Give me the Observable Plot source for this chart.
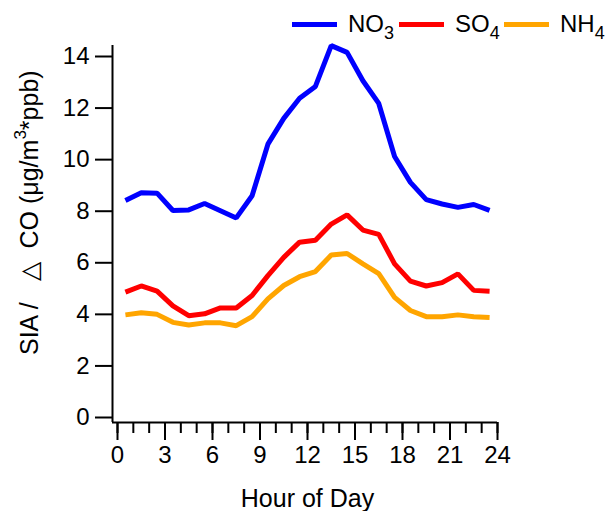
<!DOCTYPE html>
<html><head><meta charset="utf-8">
<script src="https://cdn.jsdelivr.net/npm/d3@7"></script>
<script src="https://cdn.jsdelivr.net/npm/@observablehq/plot@0.6"></script>
<style>
body{margin:0;background:#fff;font-family:"Liberation Sans",Arial,sans-serif;}
#legend{height:40px;position:relative;font-size:24px;color:#000;width:607px;}
.item{position:absolute;top:6px;height:36px;display:flex;align-items:center;white-space:nowrap;}
.sw{width:45px;height:5px;margin-right:11px;}
.item sub{font-size:18px;vertical-align:-7px;line-height:0;}
</style></head>
<body>
<div id="legend"></div>
<div id="chart"></div>
<script>
const hours = [0.5,1.5,2.5,3.5,4.5,5.5,6.5,7.5,8.5,9.5,10.5,11.5,12.5,13.5,14.5,15.5,16.5,17.5,18.5,19.5,20.5,21.5,22.5,23.5];
const no3 = [8.42,8.72,8.70,8.03,8.05,8.30,8.02,7.74,8.60,10.6,11.6,12.38,12.84,14.42,14.16,13.06,12.18,10.12,9.12,8.45,8.28,8.15,8.26,8.03];
const so4 = [4.86,5.10,4.90,4.33,3.95,4.02,4.25,4.25,4.73,5.50,6.21,6.80,6.87,7.50,7.86,7.27,7.10,5.96,5.29,5.10,5.23,5.57,4.93,4.90];
const nh4 = [3.98,4.06,4.00,3.69,3.59,3.67,3.67,3.56,3.91,4.60,5.12,5.46,5.66,6.30,6.36,5.96,5.58,4.66,4.15,3.91,3.91,3.98,3.91,3.88];
const seriesNames = ["NO3","SO4","NH4"];
const seriesLabels = [["NO","3"],["SO","4"],["NH","4"]];
const seriesColors = ["#0000ff","#ff0000","#ffa500"];
const yTicks = [0,2,4,6,8,10,12,14];
const xTicks = [0,3,6,9,12,15,18,21,24];
const xMinor = d3.range(0,25,1);
const xLabel = "Hour of Day";

const data = hours.flatMap((h,i)=>[
  {hour:h, v:no3[i], s:"NO3"},
  {hour:h, v:so4[i], s:"SO4"},
  {hour:h, v:nh4[i], s:"NH4"}
]);

// legend
const legend = document.getElementById("legend");
const lefts = [292,399,504];
seriesNames.forEach((n,i)=>{
  const it = document.createElement("div");
  it.className="item"; it.style.left = lefts[i]+"px";
  it.innerHTML = `<div class="sw" style="background:${seriesColors[i]}"></div><span>${seriesLabels[i][0]}<sub>${seriesLabels[i][1]}</sub></span>`;
  legend.appendChild(it);
});

const plot = Plot.plot({
  width:607, height:471,
  marginLeft:117, marginRight:110, marginTop:16, marginBottom:94,
  x:{domain:[0,24]},
  y:{domain:[0,14]},
  color:{domain:seriesNames, range:seriesColors},
  style:{fontFamily:"'Liberation Sans', Arial, sans-serif", fontSize:"24px", color:"#000", background:"#fff"},
  marks:[
    Plot.axisY({ticks:yTicks, tickSize:17, dx:-5, tickPadding:6, strokeWidth:2, label:null, tickFormat:d=>String(d)}),
    Plot.axisX({ticks:xMinor, tickSize:11, dy:5, strokeWidth:2, text:null, label:null}),
    Plot.axisX({ticks:xTicks, tickSize:18, dy:5, tickPadding:5, strokeWidth:2, label:null, tickFormat:d=>String(d)}),
    Plot.ruleX([0], {dx:-5, insetTop:-11, insetBottom:-5, strokeWidth:2, stroke:"#000"}),
    Plot.ruleY([0], {dy:5, insetLeft:-5, strokeWidth:2, stroke:"#000"}),
    Plot.line(data, {x:"hour", y:"v", z:"s", stroke:"s", strokeWidth:5, strokeLinejoin:"miter", strokeLinecap:"butt"}),
    Plot.text([xLabel], {frameAnchor:"bottom", dy:72, lineAnchor:"top", text:d=>d, fontSize:25})
  ]
});
document.getElementById("chart").appendChild(plot);

// y-axis title with superscript
const svg = d3.select(plot);
const t = svg.append("text")
  .attr("transform","translate(38,315) rotate(-90)")
  .attr("text-anchor","start")
  .attr("font-size",25)
  .attr("fill","#000")
  .style("white-space","pre");
t.append("tspan").text("SIA /   \u25B3  CO (\u03BCg/m");
t.append("tspan").attr("font-size",17).attr("dy",-12).text("3");
t.append("tspan").attr("dy",12).text("*ppb)");
</script>
</body></html>
